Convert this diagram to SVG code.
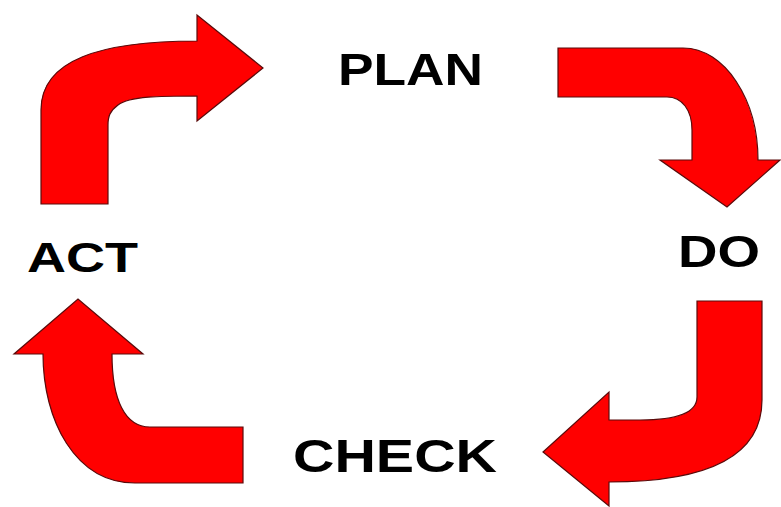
<svg xmlns="http://www.w3.org/2000/svg" width="781" height="507" viewBox="0 0 781 507">
<style>
.arr{fill:#ff0000;stroke:#5a0a0a;stroke-width:1.2;stroke-linejoin:miter}
.lbl{font-family:"Liberation Sans",Arial,sans-serif;font-weight:bold;fill:#000}
</style>
<rect width="781" height="507" fill="#fff"/>
<g id="connectors">
<path id="arrow-act-plan" class="arr" d="M41,204 L41,110 C41,60 100,41 197,41 L197,15 L263,68 L197,121 L197,96 C160,96 130,96 118,105 C110,111 108,116 108,125 L108,204 Z"/>
<path id="arrow-plan-do" class="arr" d="M558,48 L683,48 C725,48 758,100 758,160 L780,160 L727,207 L660,160 L692,160 L692,130 C692,110 682,97 667,97 L558,97 Z"/>
<path id="arrow-do-check" class="arr" d="M697,301 L762,301 L762,400 C762,455 710,482 609,482 L609,506 L543,452 L609,392 L609,420 L640,420 C680,420 697,412 697,397 Z"/>
<path id="arrow-check-act" class="arr" d="M243,483 L135,483 C75,483 43,420 43,354 L14,354 L78,299 L143,354 L112,354 C112,400 125,427 150,427 L243,427 Z"/>
</g>
<g id="plan"><text class="lbl" x="338" y="85" font-size="44" textLength="145" lengthAdjust="spacingAndGlyphs">PLAN</text></g>
<g id="do"><text class="lbl" x="678" y="267" font-size="44" textLength="82" lengthAdjust="spacingAndGlyphs">DO</text></g>
<g id="check"><text class="lbl" x="293" y="472" font-size="47" textLength="204" lengthAdjust="spacingAndGlyphs">CHECK</text></g>
<g id="act"><text class="lbl" x="27" y="272" font-size="42" textLength="111" lengthAdjust="spacingAndGlyphs">ACT</text></g>
</svg>
